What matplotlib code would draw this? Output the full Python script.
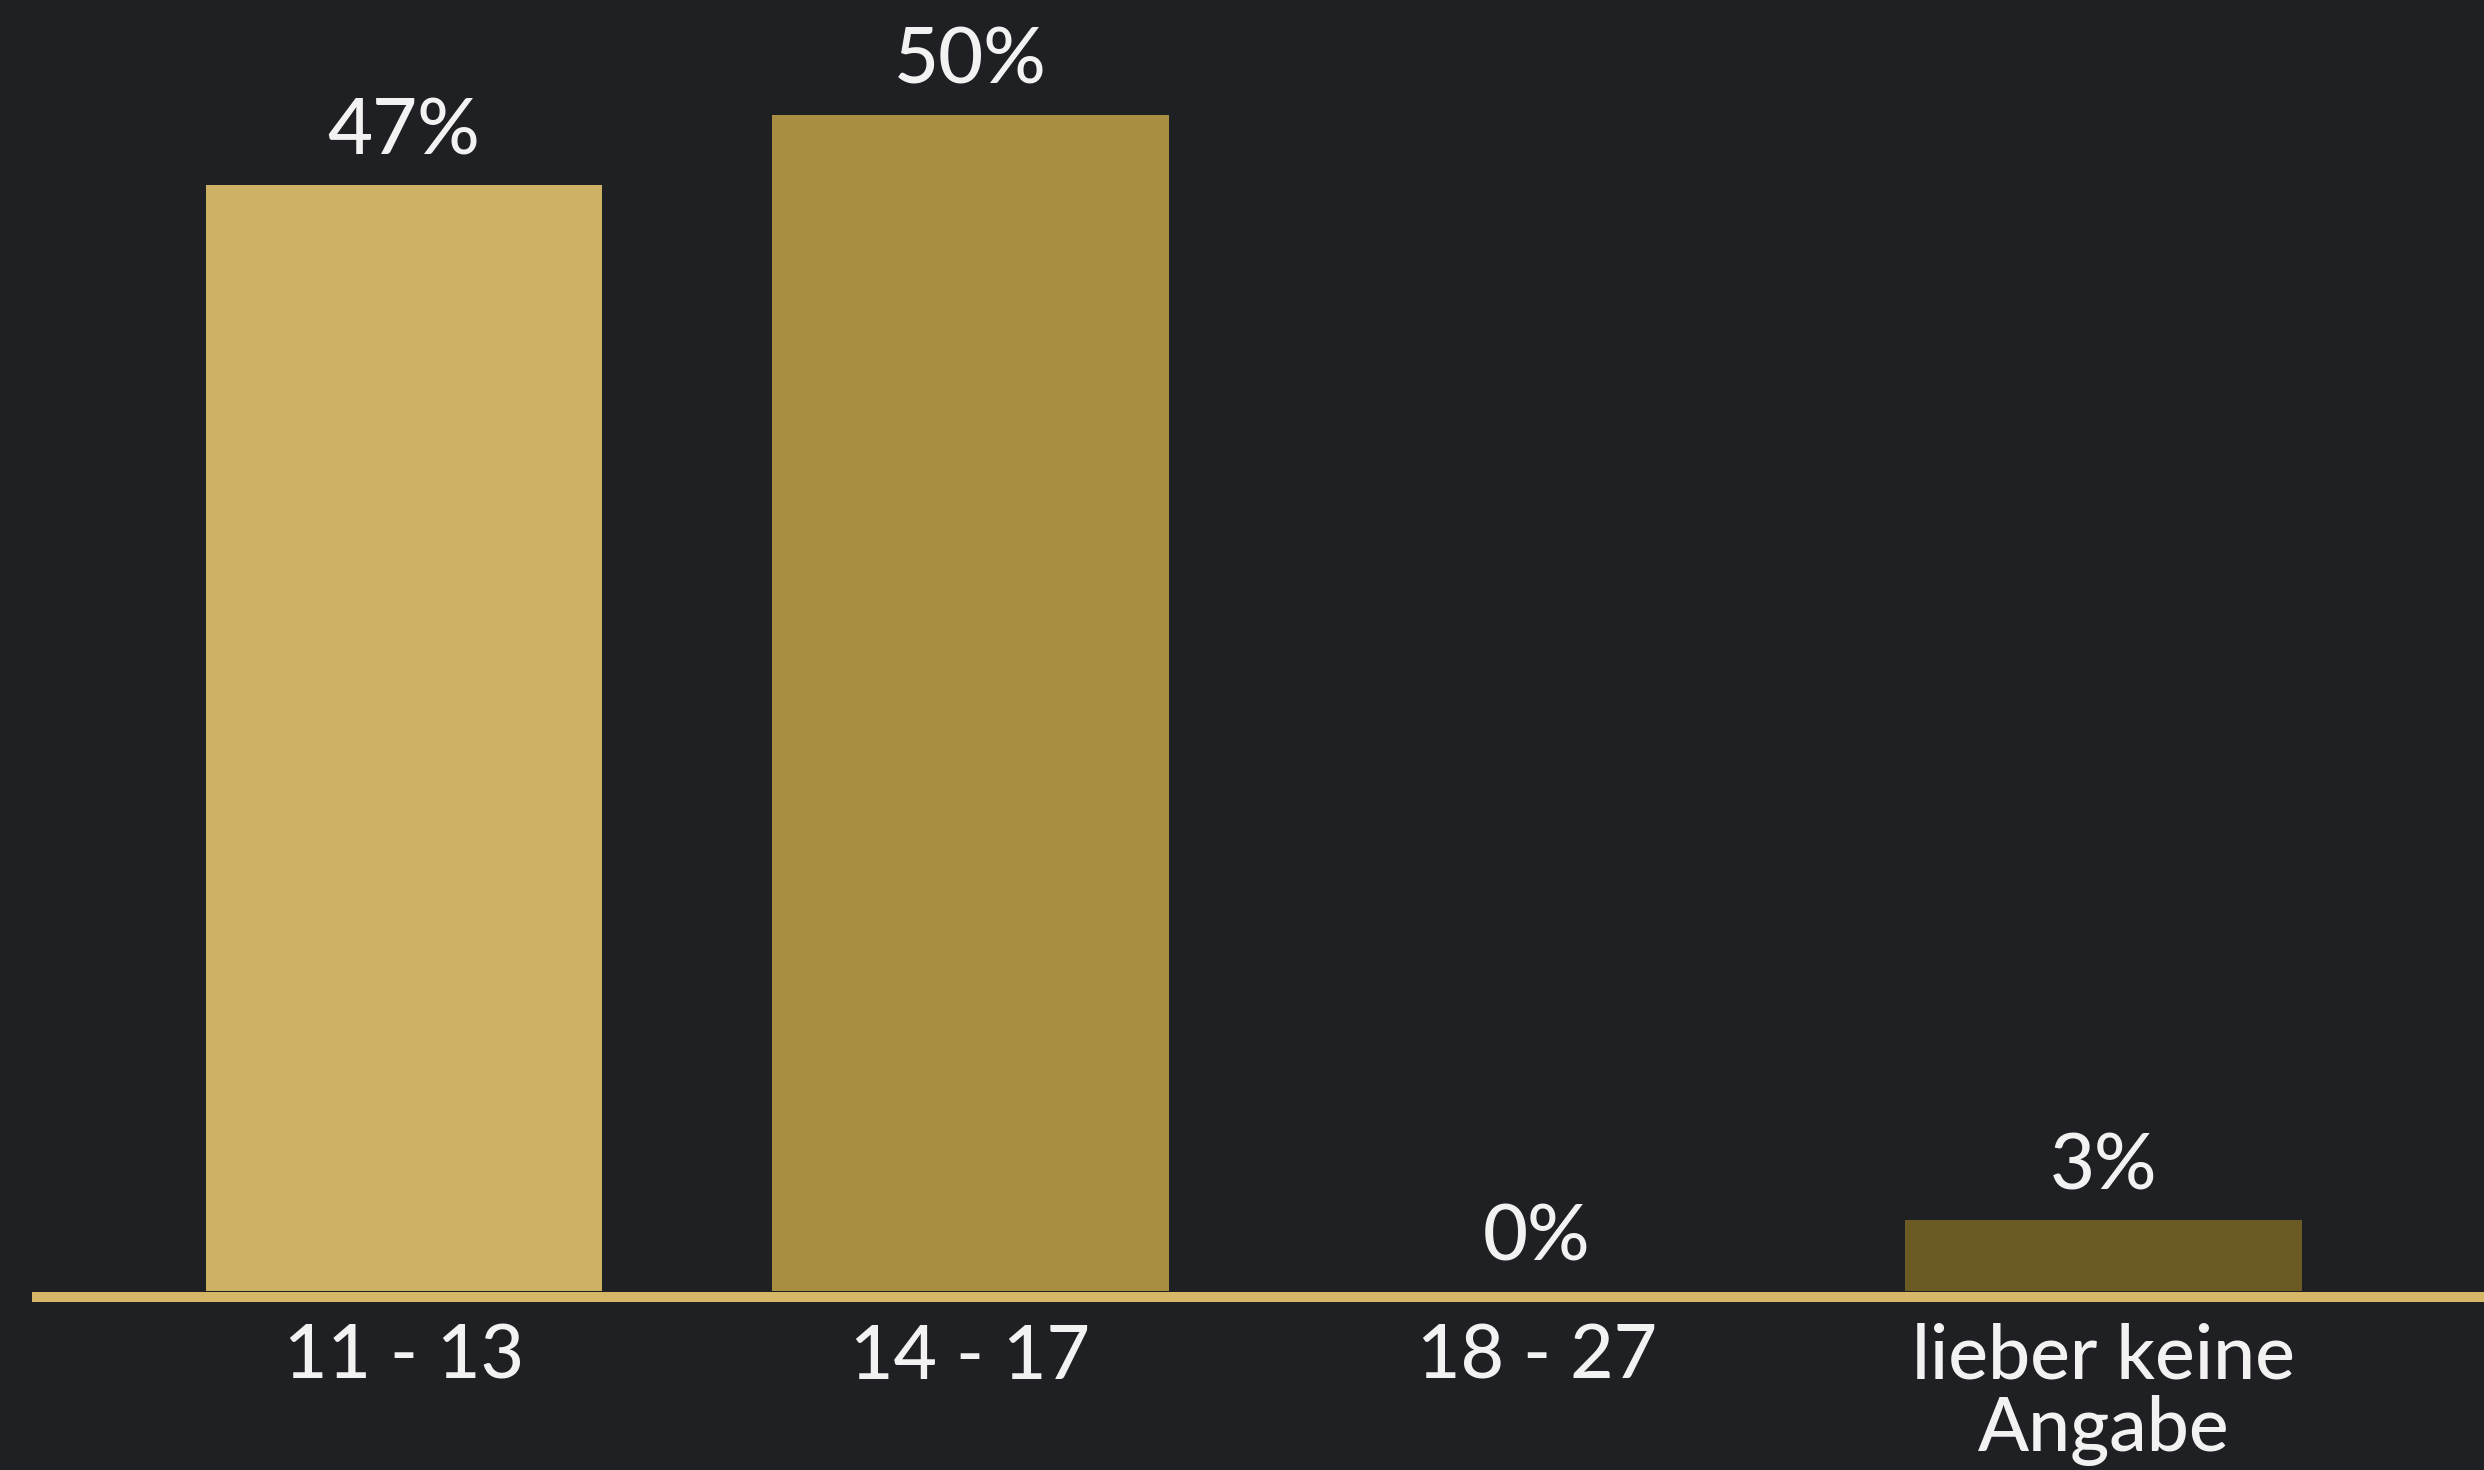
#!/usr/bin/env python3
"""
Altersverteilung der Teilnehmer als Balkendiagramm (dunkler Hintergrund, Goldtöne).
"""

import matplotlib
matplotlib.use("Agg")
import matplotlib.pyplot as plt


categories = ["11 - 13", "14 - 17", "18 - 27", "lieber keine\nAngabe"]
values = [47, 50, 0, 3]
value_labels = ["47%", "50%", "0%", "3%"]
bar_colors = ["#cdb265", "#a88e43", "#a88e43", "#6b5a24"]

BG = "#1f2023"
GOLD = "#d6b767"
TEXT = "#f2f2f2"

plt.rcParams["font.family"] = ["Lato", "DejaVu Sans"]


def main():
    fig = plt.figure(figsize=(24.84, 14.70), dpi=100, facecolor=BG)
    # axes spans the whole width, bottom at the baseline
    ax = fig.add_axes([0.0, 1 - 1291 / 1470, 1.0, 1291 / 1470])
    ax.set_facecolor(BG)

    x = list(range(len(categories)))
    bars = ax.bar(x, values, width=0.7, color=bar_colors, zorder=3)

    # Werte über den Balken
    for rect, lab in zip(bars, value_labels):
        ax.annotate(
            lab,
            (rect.get_x() + rect.get_width() / 2, rect.get_height()),
            xytext=(0, 22),
            textcoords="offset points",
            ha="center",
            va="baseline",
            color=TEXT,
            fontsize=56,
            fontweight="medium",
        )

    # goldene Grundlinie
    ax.axhline(-0.25, xmin=0.013, xmax=1.0, color=GOLD, linewidth=7.2, zorder=2,
               clip_on=False, solid_capstyle="butt")

    ax.set_xlim(-0.713, 3.672)
    ax.set_ylim(0, 1291 / 23.53)

    ax.set_xticks(x)
    ax.set_xticklabels(categories, color=TEXT, fontsize=54, fontweight="medium",
                       linespacing=1.05)
    ax.tick_params(axis="x", length=0, pad=23)
    ax.set_yticks([])
    for spine in ax.spines.values():
        spine.set_visible(False)

    fig.savefig("out.png", dpi=100, facecolor=BG)


if __name__ == "__main__":
    main()
